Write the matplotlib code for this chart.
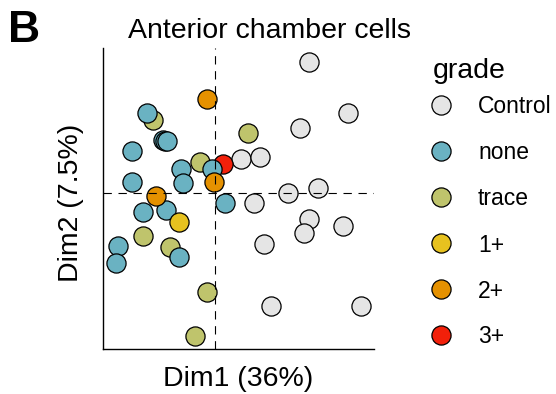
import matplotlib
matplotlib.use("Agg")
import matplotlib.pyplot as plt

plt.rcParams['font.family'] = ['Liberation Sans', 'DejaVu Sans']

# MCA coordinates of the anterior chamber cell samples
control_x = [4.69, 6.64, 4.24, 1.27, 2.25, 5.12, 3.65, 1.95, 4.67, 4.45, 6.39, 2.45, 2.80, 7.30]
control_y = [6.58, 4.00, 3.25, 1.70, 1.80, 0.28, 0.00, -0.47, -1.30, -2.00, -1.65, -2.55, -5.64, -5.64]

none_x = [-3.40, -2.63, -2.53, -2.42, -4.17, -4.18, -1.73, -1.60, -0.15, 0.50, -3.62, -2.45, -4.87, -4.98, -1.82]
none_y = [4.00, 2.67, 2.63, 2.62, 2.12, 0.55, 1.20, 0.50, 1.20, -0.50, -0.94, -0.82, -2.62, -3.50, -3.17]

trace_x = [-3.13, 1.64, -0.78, -3.63, -2.27, -0.40, -1.03]
trace_y = [3.67, 3.00, 1.58, -2.12, -2.70, -4.92, -7.14]

g1_x = [-1.80]
g1_y = [-1.44]

g2_x = [-0.42, -0.08, -2.98]
g2_y = [4.73, 0.58, -0.14]

g3_x = [0.37]
g3_y = [1.47]

grades = ['Control', 'none', 'trace', '1+', '2+', '3+']
grade_colors = {
    'Control': '#E5E5E5',
    'none': '#6AB2C2',
    'trace': '#BFC46C',
    '1+': '#E7C21F',
    '2+': '#E59100',
    '3+': '#F2200A',
}
points = {
    'Control': (control_x, control_y),
    'none': (none_x, none_y),
    'trace': (trace_x, trace_y),
    '1+': (g1_x, g1_y),
    '2+': (g2_x, g2_y),
    '3+': (g3_x, g3_y),
}
draw_order = ['Control', 'trace', '3+', 'none', '1+', '2+']

W, H = 556, 394
fig = plt.figure(figsize=(W / 100, H / 100), dpi=100)
ax = fig.add_axes([103 / W, 1 - 349.3 / H, (374 - 103) / W, (349.3 - 48) / H])

marker_s = 190
for g in draw_order:
    xs, ys = points[g]
    ax.scatter(xs, ys, s=marker_s, c=grade_colors[g], edgecolors='black',
               linewidths=0.9, zorder=2)

ax.axhline(0, color='black', lw=0.8, ls=(0, (7.5, 6)), zorder=3)
ax.axvline(0, color='black', lw=0.8, ls=(0, (7.5, 6)), zorder=3)

ax.set_xlim(-5.62, 7.94)
ax.set_ylim(-7.8, 7.27)
ax.set_xticks([])
ax.set_yticks([])
for side in ['top', 'right']:
    ax.spines[side].set_visible(False)
for side in ['left', 'bottom']:
    ax.spines[side].set_linewidth(1.0)

fig.text(8 / W, 1 - 41.7 / H, 'B', fontsize=32, fontweight='bold', va='baseline')
fig.text(270 / W, 1 - 37.7 / H, 'Anterior chamber cells', fontsize=20.5,
         ha='center', va='baseline')
fig.text(237.7 / W, 1 - 386 / H, 'Dim1 (36%)', fontsize=20.5, ha='center', va='baseline')
fig.text(71.5 / W, 1 - 203 / H, 'Dim2 (7.5%)', fontsize=20.5, rotation=90,
         ha='center', va='center')

# legend drawn on a pixel-space overlay
lax = fig.add_axes([0, 0, 1, 1])
lax.set_xlim(0, W)
lax.set_ylim(H, 0)
lax.axis('off')
lax.text(432.7, 78.3, 'grade', fontsize=20.5, va='baseline')
key_y = [105, 151, 196.7, 243.3, 289.3, 335]
for g, ky in zip(grades, key_y):
    lax.scatter([440.7], [ky], s=marker_s, c=grade_colors[g], edgecolors='black',
                linewidths=0.9)
    lax.text(478, ky + 8.3, g, fontsize=16.5, va='baseline')

fig.savefig('out.png', dpi=100)
